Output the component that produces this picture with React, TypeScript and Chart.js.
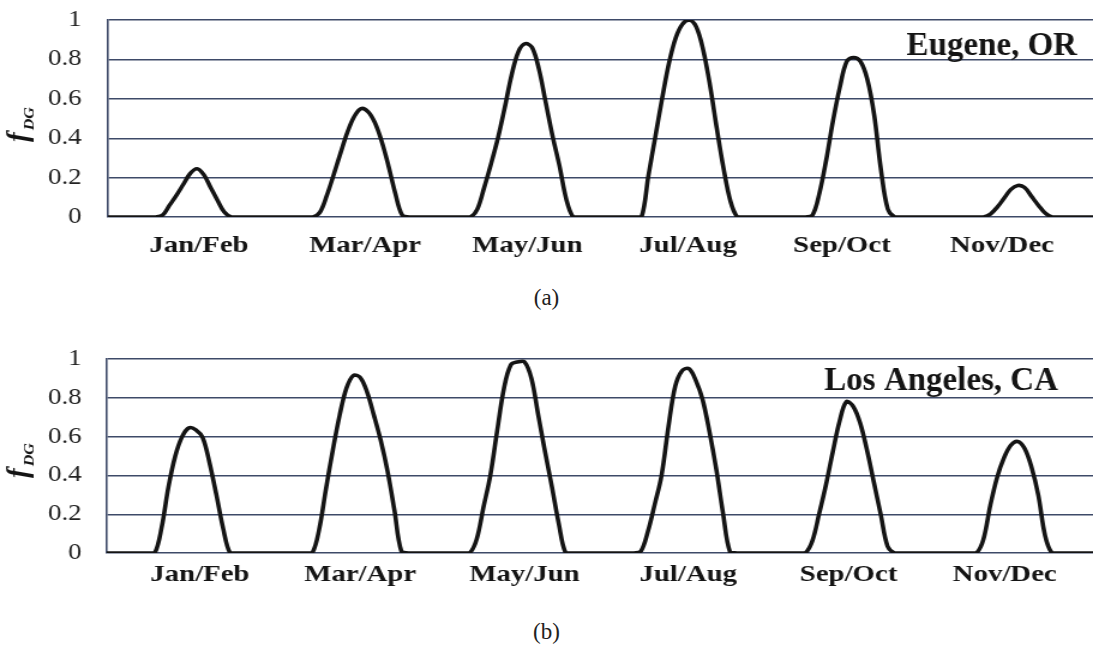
import React, { useEffect, useRef } from 'react';
import { Chart, registerables } from 'chart.js';

Chart.register(...registerables);

// Two-month periods shown along each panel
const PERIODS = ['Jan/Feb', 'Mar/Apr', 'May/Jun', 'Jul/Aug', 'Sep/Oct', 'Nov/Dec'];
const Y_TICKS = [0, 0.2, 0.4, 0.6, 0.8, 1];

// Hourly f_DG (hours 0-23) for a representative day of each period
// Eugene, OR
const eugeneJanFeb = [0, 0, 0, 0, 0, 0, 0, 0, 0.01, 0.06, 0.11, 0.165, 0.22, 0.245, 0.215, 0.15, 0.085, 0.025, 0, 0, 0, 0, 0, 0];
const eugeneMarApr = [0, 0, 0, 0, 0, 0, 0, 0.025, 0.11, 0.215, 0.325, 0.43, 0.51, 0.55, 0.535, 0.48, 0.385, 0.26, 0.12, 0.01, 0, 0, 0, 0];
const eugeneMayJun = [0, 0, 0, 0, 0, 0, 0.04, 0.15, 0.27, 0.4, 0.555, 0.72, 0.84, 0.88, 0.86, 0.75, 0.58, 0.41, 0.26, 0.09, 0, 0, 0, 0];
const eugeneJulAug = [0, 0, 0, 0, 0, 0, 0, 0.21, 0.405, 0.6, 0.78, 0.91, 0.98, 1.0, 0.965, 0.85, 0.67, 0.45, 0.245, 0.08, 0, 0, 0, 0];
const eugeneSepOct = [0, 0, 0, 0, 0, 0, 0, 0.01, 0.12, 0.29, 0.49, 0.66, 0.79, 0.81, 0.79, 0.7, 0.52, 0.24, 0.04, 0, 0, 0, 0, 0];
const eugeneNovDec = [0, 0, 0, 0, 0, 0, 0, 0, 0, 0.015, 0.05, 0.095, 0.14, 0.16, 0.15, 0.105, 0.06, 0.02, 0, 0, 0, 0, 0, 0];

// Los Angeles, CA
const laJanFeb = [0, 0, 0, 0, 0, 0, 0, 0, 0.13, 0.34, 0.5, 0.6, 0.645, 0.635, 0.595, 0.465, 0.3, 0.125, 0, 0, 0, 0, 0, 0];
const laMarApr = [0, 0, 0, 0, 0, 0, 0, 0.12, 0.33, 0.53, 0.71, 0.85, 0.915, 0.905, 0.83, 0.71, 0.58, 0.42, 0.22, 0.01, 0, 0, 0, 0];
const laMayJun = [0, 0, 0, 0, 0, 0, 0.07, 0.236, 0.4, 0.63, 0.85, 0.97, 0.985, 0.985, 0.9, 0.71, 0.52, 0.34, 0.15, 0, 0, 0, 0, 0];
const laJulAug = [0, 0, 0, 0, 0, 0, 0.01, 0.11, 0.25, 0.4, 0.65, 0.86, 0.94, 0.95, 0.89, 0.79, 0.625, 0.43, 0.2, 0.005, 0, 0, 0, 0];
const laSepOct = [0, 0, 0, 0, 0, 0, 0, 0.06, 0.2, 0.35, 0.52, 0.68, 0.78, 0.755, 0.67, 0.53, 0.365, 0.2, 0.035, 0, 0, 0, 0, 0];
const laNovDec = [0, 0, 0, 0, 0, 0, 0, 0, 0.07, 0.245, 0.39, 0.49, 0.555, 0.575, 0.54, 0.445, 0.3, 0.09, 0, 0, 0, 0, 0, 0];

// Value at midnight closing the last day
const closingValue = 0;

const eugeneDays = [eugeneJanFeb, eugeneMarApr, eugeneMayJun, eugeneJulAug, eugeneSepOct, eugeneNovDec];
const laDays = [laJanFeb, laMarApr, laMayJun, laJulAug, laSepOct, laNovDec];

const HOURS_PER_DAY = 24;
const TOTAL_HOURS = HOURS_PER_DAY * PERIODS.length;

// Canvas is drawn narrower and widened by CSS, giving the figure's wide lettering
const PAGE_W = 1093;
const CANVAS_W = 911;
const STRETCH = PAGE_W / CANVAS_W;
const CANVAS_H = 262;

const SERIF = '"Liberation Serif", "Times New Roman", Times, serif';
const GRID = '#3e4a68';
const INK = '#141414';

type Panel = {
  site: string;
  caption: string;
  days: number[][];
  top: number;
  plotLeft: number;
  plotTop: number;
  plotBottom: number;
  yTickPad: number;
  xTickPad: number;
  labelHours: number[];
  siteRight: number;
  siteBaseline: number;
  captionTop: number;
};

const PANELS: Panel[] = [
  {
    site: 'Eugene, OR',
    caption: '(a)',
    days: eugeneDays,
    top: 0,
    plotLeft: 90,
    plotTop: 20,
    plotBottom: 217,
    yTickPad: 22,
    xTickPad: 6,
    labelHours: [13.3, 37.6, 61.3, 84.8, 107.3, 130.7],
    siteRight: 16,
    siteBaseline: 34.5,
    captionTop: 285.6,
  },
  {
    site: 'Los Angeles, CA',
    caption: '(b)',
    days: laDays,
    top: 339,
    plotLeft: 89,
    plotTop: 20,
    plotBottom: 214,
    yTickPad: 21,
    xTickPad: -1,
    labelHours: [13.6, 37.0, 61.0, 84.9, 108.3, 131.1],
    siteRight: 35,
    siteBaseline: 31,
    captionTop: 619.6,
  },
];

function toSeries(days: number[][]) {
  const pts: { x: number; y: number }[] = [];
  days.forEach((day, k) => {
    day.forEach((v, h) => pts.push({ x: k * HOURS_PER_DAY + h, y: v }));
  });
  pts.push({ x: TOTAL_HOURS, y: closingValue });
  return pts;
}

// Site name and the rotated f_DG axis title, drawn without the horizontal widening
const panelText = {
  id: 'panelText',
  afterDraw(chart: any, _args: any, opts: any) {
    const { ctx, chartArea } = chart;
    ctx.save();
    ctx.scale(1 / STRETCH, 1);
    ctx.fillStyle = INK;
    ctx.textBaseline = 'alphabetic';
    ctx.textAlign = 'right';
    ctx.font = `bold 33px ${SERIF}`;
    ctx.fillText(opts.site, chartArea.right * STRETCH - opts.siteRight, chartArea.top + opts.siteBaseline);

    ctx.translate(27, chartArea.bottom - 75);
    ctx.rotate(-Math.PI / 2);
    ctx.textAlign = 'left';
    ctx.font = `italic bold 29px ${SERIF}`;
    ctx.fillText('f', 0, 0);
    const w = ctx.measureText('f').width;
    ctx.font = `italic bold 16px ${SERIF}`;
    ctx.fillText('DG', w + 2, 6);
    ctx.restore();
  },
};

function PanelChart({ panel }: { panel: Panel }) {
  const ref = useRef<HTMLCanvasElement | null>(null);

  useEffect(() => {
    if (!ref.current) return;
    const chart = new Chart(ref.current, {
      type: 'line',
      data: {
        datasets: [
          {
            data: toSeries(panel.days),
            borderColor: INK,
            borderWidth: 3.6,
            pointRadius: 0,
            fill: false,
            tension: 0.35,
            borderJoinStyle: 'round',
            borderCapStyle: 'round',
          },
        ],
      },
      options: {
        animation: false,
        responsive: false,
        devicePixelRatio: 1,
        events: [],
        layout: { padding: { top: panel.plotTop, left: 0, right: 0, bottom: 0 } },
        plugins: {
          legend: { display: false },
          tooltip: { enabled: false },
          panelText: { site: panel.site, siteRight: panel.siteRight, siteBaseline: panel.siteBaseline },
        } as any,
        scales: {
          x: {
            type: 'linear',
            min: 0,
            max: TOTAL_HOURS,
            grid: { display: false },
            border: { display: false },
            afterBuildTicks: (axis: any) => {
              axis.ticks = panel.labelHours.map((v) => ({ value: v }));
            },
            afterFit: (axis: any) => {
              axis.height = CANVAS_H - panel.plotBottom;
              axis.paddingLeft = 0;
              axis.paddingRight = 0;
            },
            ticks: {
              autoSkip: false,
              maxRotation: 0,
              minRotation: 0,
              padding: panel.xTickPad,
              color: INK,
              font: { family: SERIF, size: 24, weight: 'bold' },
              callback: (_v: any, i: number) => PERIODS[i],
            },
          },
          y: {
            min: 0,
            max: 1,
            afterBuildTicks: (axis: any) => {
              axis.ticks = Y_TICKS.map((v) => ({ value: v }));
            },
            afterFit: (axis: any) => {
              axis.width = panel.plotLeft;
              axis.paddingTop = 0;
              axis.paddingBottom = 0;
            },
            grid: { color: GRID, lineWidth: 1.4, drawTicks: false },
            border: { display: true, color: GRID, width: 1.6 },
            ticks: {
              padding: panel.yTickPad,
              color: '#222',
              font: { family: SERIF, size: 22.5 },
              callback: (v: any) => String(+Number(v).toFixed(1)),
            },
          },
        },
      },
      plugins: [panelText],
    } as any);
    return () => chart.destroy();
  }, [panel]);

  return (
    <canvas
      ref={ref}
      width={CANVAS_W}
      height={CANVAS_H}
      style={{ position: 'absolute', left: 0, top: panel.top, width: PAGE_W, height: CANVAS_H }}
    />
  );
}

export default function App() {
  return (
    <div style={{ position: 'absolute', left: 0, top: 0, width: PAGE_W, height: 656, background: '#fff', overflow: 'hidden' }}>
      {PANELS.map((p) => (
        <React.Fragment key={p.caption}>
          <PanelChart panel={p} />
          <div
            style={{
              position: 'absolute',
              left: 0,
              top: p.captionTop,
              width: PAGE_W,
              textAlign: 'center',
              fontFamily: SERIF,
              fontSize: 23,
              lineHeight: '23px',
              color: '#222',
            }}
          >
            {p.caption}
          </div>
        </React.Fragment>
      ))}
    </div>
  );
}
